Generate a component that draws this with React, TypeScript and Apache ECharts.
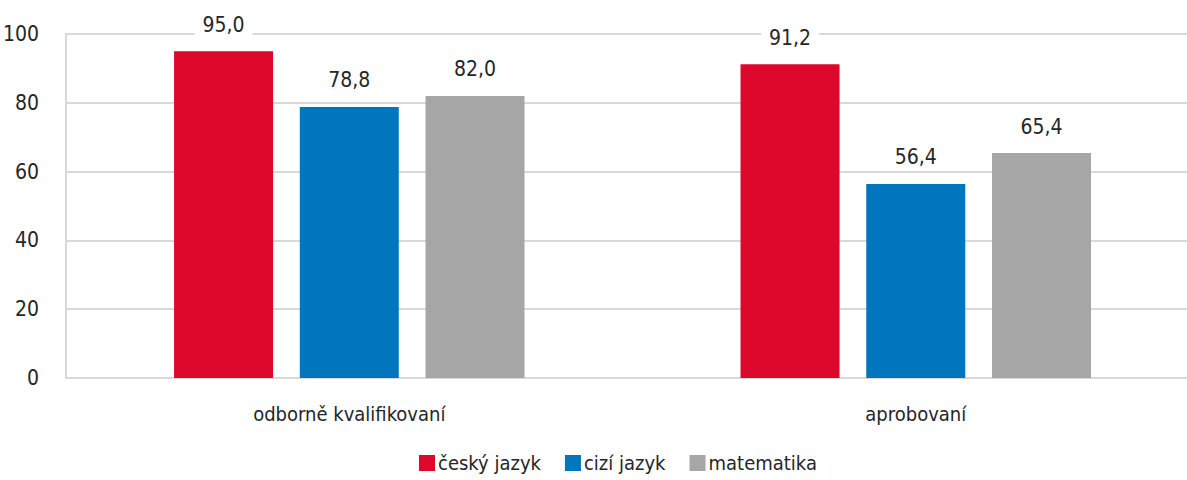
import React, { useEffect, useRef } from "react";
import * as echarts from "echarts";

const categories = ["odborně kvalifikovaní", "aprobovaní"];
const seriesNames = ["český jazyk", "cizí jazyk", "matematika"];
const ceskyJazyk = [95.0, 91.2];
const ciziJazyk = [78.8, 56.4];
const matematika = [82.0, 65.4];
const colors = ["#DE082C", "#0076BF", "#A6A6A6"];
const yTicks = { min: 0, max: 100, interval: 20 };

const FONT = '"Liberation Sans Narrow", "DejaVu Sans Condensed", "Roboto Condensed", sans-serif';
const TEXT = "#262626";

export default function App() {
  const ref = useRef<HTMLDivElement>(null);
  useEffect(() => {
    if (!ref.current) return;
    const chart = echarts.init(ref.current, undefined, { renderer: "svg" });
    const values = [ceskyJazyk, ciziJazyk, matematika];
    chart.setOption({
      animation: false,
      textStyle: { fontFamily: FONT, color: TEXT },
      grid: { left: 65, right: 0, top: 34, bottom: 102, containLabel: false },
      legend: {
        bottom: 2,
        left: 414,
        itemWidth: 16,
        itemHeight: 16,
        itemGap: 24,
        icon: "rect",
        textStyle: { fontFamily: FONT, fontSize: 20, color: TEXT, padding: [0, 0, 0, -2] },
        data: seriesNames,
      },
      xAxis: {
        type: "category",
        data: categories,
        axisLine: { show: true, lineStyle: { color: "#D9D9D9", width: 2 } },
        axisTick: { show: false },
        axisLabel: { fontFamily: FONT, fontSize: 20, color: TEXT, margin: 26 },
      },
      yAxis: {
        type: "value",
        min: yTicks.min,
        max: yTicks.max,
        interval: yTicks.interval,
        axisLine: { show: true, lineStyle: { color: "#D9D9D9", width: 2 } },
        axisTick: { show: false },
        splitLine: { show: true, lineStyle: { color: "#D9D9D9", width: 2 } },
        axisLabel: { fontFamily: FONT, fontSize: 21, color: TEXT, margin: 27 },
      },
      series: seriesNames.map((name, i) => ({
        name,
        type: "bar",
        data: values[i],
        barWidth: 99,
        barGap: "27%",
        itemStyle: { color: colors[i] },
        label: {
          show: true,
          position: "top",
          distance: 14,
          fontFamily: FONT,
          fontSize: 21,
          color: TEXT,
          backgroundColor: "#fff",
          padding: [2, 8],
          formatter: (p: any) => Number(p.value).toFixed(1).replace(".", ","),
        },
      })),
    });
    return () => chart.dispose();
  }, []);
  return (
    <div style={{ position: "absolute", left: 0, top: 0, width: 1187, height: 480, overflow: "hidden" }}>
      <div ref={ref} style={{ width: 1199, height: 480 }} />
    </div>
  );
}
